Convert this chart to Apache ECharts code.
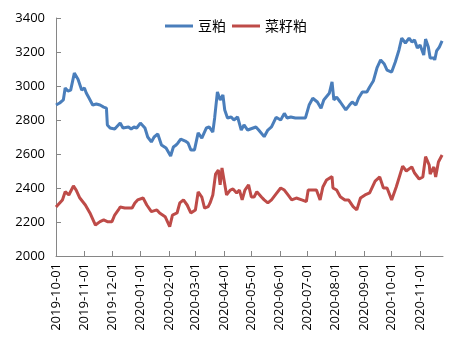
<!DOCTYPE html>
<html>
<head>
<meta charset="utf-8">
<script src="https://cdn.jsdelivr.net/npm/echarts@6/dist/echarts.min.js"></script>
<style>
html,body{margin:0;padding:0;background:#fff;}
#chart{width:469px;height:344px;}
</style>
</head>
<body>
<div id="chart"></div>
<script>
// Series names
const seriesNames = ['豆粕', '菜籽粕'];

// 豆粕 (soybean meal)
const soyDates = ['2019-10-01','2019-10-05','2019-10-09','2019-10-11','2019-10-14','2019-10-17','2019-10-21','2019-10-25','2019-10-29','2019-11-01','2019-11-03','2019-11-06','2019-11-10','2019-11-14','2019-11-18','2019-11-22','2019-11-25','2019-11-26','2019-11-29','2019-12-04','2019-12-10','2019-12-13','2019-12-19','2019-12-22','2019-12-25','2019-12-28','2020-01-01','2020-01-04','2020-01-06','2020-01-09','2020-01-13','2020-01-16','2020-01-20','2020-01-24','2020-01-29','2020-02-03','2020-02-06','2020-02-09','2020-02-11','2020-02-14','2020-02-19','2020-02-22','2020-02-25','2020-02-29','2020-03-04','2020-03-08','2020-03-13','2020-03-16','2020-03-20','2020-03-22','2020-03-25','2020-03-28','2020-03-31','2020-04-02','2020-04-05','2020-04-09','2020-04-12','2020-04-16','2020-04-20','2020-04-23','2020-04-27','2020-05-03','2020-05-06','2020-05-09','2020-05-15','2020-05-19','2020-05-23','2020-05-28','2020-06-02','2020-06-06','2020-06-09','2020-06-13','2020-06-18','2020-06-22','2020-06-29','2020-07-03','2020-07-07','2020-07-12','2020-07-16','2020-07-19','2020-07-25','2020-07-28','2020-07-30','2020-08-02','2020-08-06','2020-08-12','2020-08-16','2020-08-19','2020-08-23','2020-08-26','2020-08-30','2020-09-04','2020-09-07','2020-09-11','2020-09-15','2020-09-19','2020-09-23','2020-09-26','2020-10-01','2020-10-05','2020-10-09','2020-10-12','2020-10-16','2020-10-20','2020-10-23','2020-10-26','2020-10-29','2020-11-01','2020-11-05','2020-11-07','2020-11-10','2020-11-12','2020-11-16','2020-11-17','2020-11-19','2020-11-22','2020-11-25'];
const soyValues = [2888,2900,2918,2988,2970,2976,3076,3040,2976,2988,2959,2929,2888,2894,2888,2876,2870,2771,2753,2747,2782,2753,2759,2747,2759,2753,2782,2765,2753,2700,2671,2700,2718,2653,2635,2588,2641,2653,2665,2688,2676,2665,2624,2624,2724,2694,2753,2759,2729,2812,2965,2918,2947,2859,2812,2818,2800,2818,2741,2771,2741,2753,2759,2741,2702,2741,2759,2816,2800,2839,2812,2818,2812,2812,2812,2888,2928,2906,2869,2918,2957,3024,2918,2935,2906,2859,2888,2906,2888,2929,2965,2965,2994,3029,3106,3153,3129,3094,3082,3141,3212,3282,3253,3282,3259,3271,3224,3241,3182,3276,3229,3165,3165,3153,3206,3229,3265];

// 菜籽粕 (rapeseed meal)
const rapeDates = ['2019-10-01','2019-10-05','2019-10-08','2019-10-11','2019-10-15','2019-10-20','2019-10-23','2019-10-27','2019-11-02','2019-11-07','2019-11-13','2019-11-18','2019-11-22','2019-11-26','2019-12-01','2019-12-04','2019-12-08','2019-12-10','2019-12-15','2019-12-23','2019-12-26','2019-12-29','2020-01-04','2020-01-08','2020-01-13','2020-01-19','2020-01-22','2020-01-28','2020-02-02','2020-02-05','2020-02-10','2020-02-13','2020-02-17','2020-02-21','2020-02-25','2020-03-01','2020-03-04','2020-03-08','2020-03-11','2020-03-15','2020-03-17','2020-03-20','2020-03-23','2020-03-26','2020-03-28','2020-03-30','2020-04-01','2020-04-04','2020-04-08','2020-04-11','2020-04-15','2020-04-18','2020-04-21','2020-04-24','2020-04-28','2020-05-01','2020-05-04','2020-05-07','2020-05-12','2020-05-15','2020-05-19','2020-05-23','2020-05-28','2020-06-02','2020-06-06','2020-06-10','2020-06-14','2020-06-19','2020-06-25','2020-06-30','2020-07-02','2020-07-11','2020-07-15','2020-07-18','2020-07-22','2020-07-28','2020-07-29','2020-08-02','2020-08-06','2020-08-11','2020-08-15','2020-08-20','2020-08-24','2020-08-28','2020-09-02','2020-09-07','2020-09-13','2020-09-18','2020-09-22','2020-09-26','2020-10-01','2020-10-06','2020-10-13','2020-10-17','2020-10-23','2020-10-26','2020-10-31','2020-11-04','2020-11-07','2020-11-11','2020-11-12','2020-11-16','2020-11-18','2020-11-21','2020-11-25'];
const rapeValues = [2288,2312,2330,2378,2359,2412,2388,2341,2300,2253,2182,2202,2212,2202,2202,2241,2271,2288,2282,2282,2312,2330,2341,2300,2261,2271,2253,2231,2173,2241,2253,2312,2330,2300,2253,2271,2377,2347,2282,2290,2312,2359,2482,2506,2418,2518,2524,2359,2388,2394,2371,2388,2330,2388,2418,2347,2347,2378,2347,2330,2312,2330,2365,2400,2388,2359,2330,2341,2330,2320,2388,2388,2330,2406,2447,2467,2400,2388,2349,2330,2330,2290,2271,2341,2359,2371,2441,2465,2400,2400,2330,2406,2529,2500,2524,2488,2453,2465,2584,2535,2482,2524,2465,2553,2594];

// Axis settings
const xMin = '2019-10-01';
const xMax = '2020-11-26';
const yMin = 2000, yMax = 3400, yStep = 200;

const colors = ['#4a7ebb', '#be4b48'];
const font = 'Open Sans';

function zip(d, v) { return d.map((x, i) => [x, v[i]]); }

const chart = echarts.init(document.getElementById('chart'), null, {renderer: 'canvas'});
chart.setOption({
  animation: false,
  color: colors,
  legend: {
    top: 14,
    left: 160,
    icon: 'rect',
    itemWidth: 28,
    itemHeight: 3,
    itemGap: 6,
    textStyle: {fontSize: 14, color: '#000', fontFamily: 'Noto Sans CJK SC'},
    data: seriesNames
  },
  grid: {left: 56, right: 26, top: 18, bottom: 88, containLabel: false},
  xAxis: {
    type: 'time',
    min: xMin,
    max: xMax,
    splitNumber: 14,
    minInterval: 28 * 86400000,
    maxInterval: 31 * 86400000,
    axisLine: {lineStyle: {color: '#868686', width: 1}},
    axisTick: {inside: true, length: 5, lineStyle: {color: '#868686'}},
    splitLine: {show: false},
    axisLabel: {
      rotate: 90,
      margin: 7,
      fontSize: 13,
      color: '#000',
      fontFamily: font,
      showMaxLabel: false,
      formatter: function (v) { return echarts.time.format(v, '{yyyy}-{MM}-{dd}', false); }
    }
  },
  yAxis: {
    type: 'value',
    min: yMin,
    max: yMax,
    interval: yStep,
    axisLine: {show: true, lineStyle: {color: '#868686', width: 1}},
    axisTick: {show: true, inside: true, length: 5, lineStyle: {color: '#868686'}},
    splitLine: {show: false},
    axisLabel: {fontSize: 13, color: '#000', margin: 11, fontFamily: font, formatter: function (v) { return String(v); }}
  },
  series: [
    {name: seriesNames[0], type: 'line', data: zip(soyDates, soyValues), showSymbol: false, lineStyle: {width: 3}},
    {name: seriesNames[1], type: 'line', data: zip(rapeDates, rapeValues), showSymbol: false, lineStyle: {width: 3}}
  ]
});
</script>
</body>
</html>
